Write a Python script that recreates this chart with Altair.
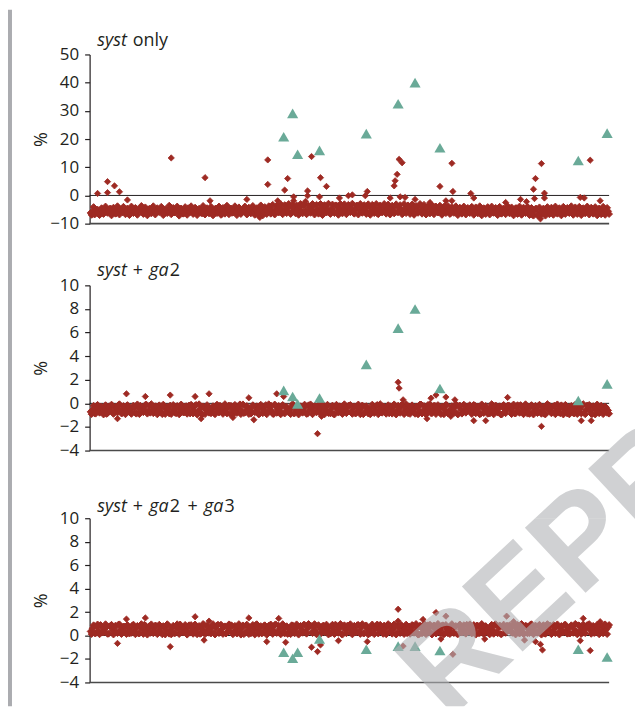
import altair as alt
import pandas as pd

# ---------------- data ----------------
# site positions along the (unlabelled) x axis, 0..522
SITES_A = list(range(1, 522, 2))
SITES_B = list(range(2, 523, 2))

P1_BAND_A = [
    -6.2, -5.6, -6.8, -5.9, -6.5, -5.2, -6.1, -4.9, -5.8, -5.4,
    -4.6, -5.9, -5.1, -6.3, -4.4, -5.5, -6.0, -4.8, -5.3, -6.2,
    -5.0, -4.5, -5.7, -6.1, -5.2, -4.7, -5.9, -5.4, -6.3, -5.0,
    -5.6, -4.8, -5.3, -6.0, -5.5, -4.9, -5.8, -6.2, -5.1, -5.6,
    -4.6, -5.4, -6.1, -5.0, -5.7, -4.8, -5.5, -6.3, -5.2, -4.5,
    -5.9, -5.3, -6.0, -4.9, -5.6, -5.1, -6.4, -5.4, -4.7, -5.8,
    -5.2, -6.1, -5.5, -4.6, -5.9, -5.3, -6.6, -5.0, -5.7, -4.8,
    -5.4, -6.2, -5.1, -5.8, -4.7, -5.5, -6.0, -5.2, -4.9, -6.3,
    -5.6, -4.4, -5.9, -5.0, -6.5, -5.3, -4.6, -5.8, -5.1, -6.1,
    -4.2, -5.5, -6.3, -4.8, -5.7, -3.9, -5.2, -6.0, -4.5, -5.4,
    -3.8, -5.9, -4.6, -6.4, -5.0, -4.1, -5.6, -3.6, -5.3, -6.2,
    -4.4, -5.1, -3.7, -5.8, -4.9, -6.1, -4.2, -5.5, -3.9, -5.0,
    -6.3, -4.6, -5.4, -3.5, -5.9, -4.8, -6.0, -4.3, -5.2, -3.8,
    -5.7, -4.5, -6.2, -4.9, -3.6, -5.3, -4.1, -5.8, -4.7, -6.1,
    -4.0, -5.5, -3.7, -5.0, -6.4, -4.4, -5.6, -3.9, -5.2, -4.6,
    -6.0, -4.8, -5.4, -3.8, -5.9, -4.3, -5.1, -6.3, -4.6, -5.7,
    -3.9, -5.2, -4.7, -6.1, -4.2, -5.5, -3.6, -5.0, -5.8, -4.4,
    -6.2, -4.9, -5.3, -4.0, -5.7, -4.5, -6.0, -5.1, -3.8, -5.5,
    -4.7, -6.3, -5.0, -4.3, -5.8, -5.2, -4.6, -6.1, -5.4, -4.9,
    -5.9, -5.1, -4.5, -6.2, -5.5, -4.8, -5.7, -6.4, -5.0, -4.6,
    -5.8, -5.3, -6.1, -4.7, -5.6, -5.0, -6.3, -4.9, -5.4, -5.9,
    -4.8, -5.6, -6.2, -5.1, -4.5, -5.9, -5.3, -6.5, -4.9, -5.7,
    -5.2, -6.0, -6.9, -5.5, -4.7, -6.7, -5.8, -5.1, -6.3, -4.8,
    -5.6, -6.1, -5.0, -4.6, -5.9, -5.4, -6.2, -4.9, -5.7, -5.2,
    -6.0, -4.5, -5.5, -6.3, -5.1, -4.8, -5.8, -5.3, -6.1, -4.7,
    -5.4, -6.2, -5.0, -5.7, -4.6, -5.9, -5.2, -6.4, -4.8, -5.5,
    -5.6,
]

P1_BAND_B = [
    -6.9, -4.1, -6.4, -5.0, -7.0, -4.5, -6.6, -3.9, -6.2, -4.8,
    -7.1, -4.3, -6.5, -3.8, -6.8, -5.2, -4.0, -6.7, -4.6, -7.0,
    -3.9, -6.3, -4.4, -6.9, -5.1, -3.7, -6.6, -4.2, -7.1, -4.7,
    -6.4, -3.8, -6.8, -4.5, -5.9, -4.0, -7.0, -4.9, -6.3, -3.6,
    -6.7, -4.4, -6.1, -3.9, -7.2, -4.6, -6.5, -4.1, -6.9, -5.0,
    -3.8, -6.6, -4.3, -7.0, -4.7, -6.2, -3.7, -6.8, -4.5, -6.4,
    -4.0, -7.1, -4.8, -6.3, -3.9, -6.9, -4.4, -6.5, -3.6, -6.7,
    -4.6, -6.1, -3.8, -7.0, -4.2, -6.6, -5.0, -3.9, -6.8, -4.3,
    -6.4, -3.7, -6.9, -4.5, -6.2, -3.5, -7.1, -4.1, -6.6, -3.8,
    -6.5, -3.3, -6.8, -3.6, -6.1, -3.1, -6.7, -3.4, -6.3, -3.0,
    -6.6, -3.2, -6.0, -3.5, -6.9, -3.0, -6.4, -3.1, -6.7, -3.6,
    -6.2, -3.0, -6.8, -3.3, -6.5, -3.0, -7.0, -3.4, -6.1, -2.9,
    -6.6, -3.2, -6.3, -3.5, -6.9, -3.0, -6.4, -3.1, -6.7, -3.3,
    -6.0, -2.9, -6.5, -3.6, -6.8, -3.0, -6.2, -3.4, -6.6, -3.1,
    -6.9, -3.3, -6.3, -3.0, -6.7, -3.5, -6.1, -3.0, -6.5, -3.2,
    -6.8, -3.6, -6.4, -3.1, -6.0, -3.4, -6.7, -3.0, -6.3, -3.5,
    -6.6, -3.2, -6.9, -3.7, -6.2, -3.0, -6.5, -3.3, -6.8, -3.8,
    -6.4, -3.5, -6.7, -3.9, -6.1, -3.6, -6.9, -4.0, -6.3, -3.7,
    -6.6, -4.1, -6.2, -3.8, -7.0, -4.3, -6.5, -3.9, -6.8, -4.4,
    -6.3, -4.0, -6.9, -4.2, -6.4, -3.8, -7.1, -4.5, -6.6, -4.1,
    -6.8, -3.9, -6.2, -4.4, -7.0, -4.0, -6.5, -4.6, -6.7, -3.8,
    -6.4, -4.2, -7.1, -4.5, -6.6, -3.9, -6.9, -4.3, -6.3, -4.0,
    -7.0, -4.4, -7.2, -4.7, -7.1, -4.2, -6.8, -4.6, -7.2, -4.1,
    -6.7, -4.3, -6.9, -3.9, -6.5, -4.5, -7.1, -4.0, -6.6, -4.4,
    -6.3, -3.8, -6.9, -4.2, -6.6, -4.0, -7.0, -4.5, -6.4, -3.9,
    -6.8, -4.3, -6.5, -4.1, -7.1, -4.6, -6.7, -4.0, -6.9, -4.4,
    -6.6,
]

P2_BAND_A = [
    -0.72, -0.55, -0.85, -0.40, -0.66, -0.30, -0.78, -0.48, -0.90, -0.35,
    -0.60, -0.22, -0.70, -0.45, -0.15, -0.58, -0.82, -0.38, -0.63, -0.27,
    -0.50, -0.75, -0.33, -0.88, -0.44, -0.20, -0.67, -0.52, -0.10, -0.61,
    -0.80, -0.36, -0.57, -0.25, -0.73, -0.47, -0.92, -0.31, -0.64, -0.42,
    -0.18, -0.69, -0.53, -0.84, -0.29, -0.60, -0.40, -0.77, -0.23, -0.56,
    -0.86, -0.34, -0.62, -0.12, -0.71, -0.46, -0.95, -0.37, -0.58, -0.26,
    -0.68, -0.49, -0.81, -0.32, -0.54, -0.19, -0.74, -0.43, -0.65, -0.28,
    -0.89, -0.51, -0.35, -0.70, -0.41, -0.08, -0.62, -0.83, -0.30, -0.57,
    -0.45, -0.76, -0.24, -0.66, -0.50, -0.87, -0.33, -0.59, -0.14, -0.72,
    -0.38, -0.63, -0.91, -0.27, -0.55, -0.44, -0.79, -0.21, -0.67, -0.48,
    -0.58, -0.30, -0.84, -0.46, -0.16, -0.70, -0.39, -0.61, -0.25, -0.88,
    -0.52, -0.35, -0.73, -0.20, -0.64, -0.47, -0.82, -0.29, -0.56, -0.11,
    -0.69, -0.42, -0.90, -0.33, -0.60, -0.24, -0.77, -0.50, -0.37, -0.65,
    -0.19, -0.71, -0.45, -0.86, -0.31, -0.57, -0.40, -0.93, -0.26, -0.62,
    -0.48, -0.80, -0.34, -0.66, -0.13, -0.54, -0.75, -0.28, -0.59, -0.43,
    -0.85, -0.36, -0.63, -0.22, -0.70, -0.49, -0.17, -0.78, -0.41, -0.60,
    -0.27, -0.68, -0.52, -0.89, -0.32, -0.57, -0.09, -0.73, -0.46, -0.64,
    -0.38, -0.83, -0.55, -0.21, -0.67, -0.44, -0.92, -0.30, -0.58, -0.15,
    -0.71, -0.47, -0.62, -0.35, -0.86, -0.24, -0.56, -0.79, -0.40, -0.65,
    -0.28, -0.74, -0.50, -0.18, -0.69, -0.43, -0.88, -0.33, -0.61, -0.52,
    -0.80, -0.37, -0.66, -0.25, -0.57, -0.45, -0.94, -0.31, -0.70, -0.48,
    -0.20, -0.63, -0.42, -0.85, -0.35, -0.59, -0.14, -0.76, -0.51, -0.39,
    -0.67, -0.29, -0.82, -0.46, -0.60, -0.23, -0.73, -0.54, -0.90, -0.36,
    -0.58, -0.41, -0.77, -0.19, -0.65, -0.49, -0.84, -0.32, -0.62, -0.44,
    -0.71, -0.26, -0.55, -0.87, -0.38, -0.68, -0.47, -0.16, -0.79, -0.53,
    -0.34, -0.64, -0.91, -0.42, -0.58, -0.27, -0.75, -0.50, -0.66, -0.37,
    -0.60,
]

P2_BAND_B = [
    -0.92, -0.20, -0.88, -0.12, -0.80, -0.28, -0.95, -0.15, -0.85, -0.25,
    -0.10, -0.90, -0.30, -0.78, -0.07, -0.86, -0.22, -0.93, -0.14, -0.75,
    -0.90, -0.18, -0.82, -0.08, -0.92, -0.26, -0.76, -0.12, -0.88, -0.20,
    -0.06, -0.84, -0.24, -0.94, -0.16, -0.79, -0.10, -0.91, -0.30, -0.86,
    -0.91, -0.13, -0.81, -0.21, -0.94, -0.09, -0.77, -0.27, -0.89, -0.17,
    -0.11, -0.87, -0.19, -0.95, -0.07, -0.83, -0.25, -0.92, -0.14, -0.80,
    -0.85, -0.23, -0.93, -0.10, -0.78, -0.29, -0.90, -0.06, -0.86, -0.18,
    -0.20, -0.94, -0.12, -0.82, -0.26, -0.92, -0.08, -0.79, -0.22, -0.91,
    -0.88, -0.15, -0.76, -0.24, -0.95, -0.11, -0.84, -0.28, -0.93, -0.07,
    -0.17, -0.89, -0.09, -0.81, -0.21, -0.94, -0.13, -0.87, -0.27, -0.78,
    -0.92, -0.06, -0.85, -0.19, -0.95, -0.24, -0.80, -0.10, -0.90, -0.16,
    -0.08, -0.93, -0.22, -0.77, -0.14, -0.88, -0.06, -0.94, -0.25, -0.83,
    -0.86, -0.18, -0.95, -0.11, -0.79, -0.27, -0.91, -0.07, -0.84, -0.20,
    -0.13, -0.90, -0.25, -0.82, -0.09, -0.93, -0.17, -0.78, -0.23, -0.87,
    -0.94, -0.10, -0.83, -0.21, -0.93, -0.06, -0.80, -0.28, -0.89, -0.15,
    -0.24, -0.88, -0.08, -0.95, -0.19, -0.81, -0.12, -0.92, -0.06, -0.85,
    -0.90, -0.16, -0.78, -0.26, -0.94, -0.09, -0.87, -0.22, -0.95, -0.13,
    -0.07, -0.84, -0.20, -0.91, -0.14, -0.79, -0.28, -0.93, -0.11, -0.86,
    -0.93, -0.23, -0.82, -0.06, -0.95, -0.18, -0.88, -0.10, -0.80, -0.25,
    -0.15, -0.91, -0.12, -0.85, -0.27, -0.94, -0.08, -0.83, -0.21, -0.89,
    -0.87, -0.06, -0.94, -0.17, -0.79, -0.24, -0.95, -0.13, -0.84, -0.19,
    -0.22, -0.92, -0.09, -0.86, -0.15, -0.81, -0.26, -0.93, -0.07, -0.88,
    -0.90, -0.14, -0.95, -0.20, -0.83, -0.11, -0.89, -0.28, -0.94, -0.06,
    -0.18, -0.85, -0.25, -0.93, -0.08, -0.80, -0.16, -0.95, -0.12, -0.87,
    -0.94, -0.21, -0.82, -0.10, -0.91, -0.27, -0.86, -0.06, -0.93, -0.17,
    -0.13, -0.89, -0.23, -0.95, -0.09, -0.84, -0.19, -0.92, -0.26, -0.81,
    -0.88,
]

P3_BAND_A = [
    0.35, 0.62, 0.20, 0.78, 0.45, 0.90, 0.28, 0.55, 0.71, 0.15,
    0.83, 0.40, 0.66, 0.25, 0.94, 0.52, 0.33, 0.75, 0.12, 0.58,
    0.47, 0.86, 0.30, 0.64, 0.18, 0.73, 0.50, 0.92, 0.38, 0.60,
    0.22, 0.69, 0.43, 0.81, 0.27, 0.57, 0.10, 0.76, 0.48, 0.88,
    0.36, 0.63, 0.19, 0.72, 0.54, 0.95, 0.31, 0.67, 0.42, 0.80,
    0.24, 0.59, 0.85, 0.37, 0.70, 0.14, 0.51, 0.89, 0.29, 0.65,
    0.46, 0.77, 0.21, 0.61, 0.93, 0.34, 0.56, 0.74, 0.16, 0.68,
    0.41, 0.84, 0.26, 0.53, 0.79, 0.32, 0.60, 0.11, 0.87, 0.44,
    0.71, 0.23, 0.57, 0.91, 0.39, 0.66, 0.17, 0.82, 0.49, 0.62,
    0.30, 0.75, 0.43, 0.96, 0.27, 0.58, 0.84, 0.35, 0.69, 0.13,
    0.52, 0.88, 0.40, 0.64, 0.20, 0.77, 0.47, 0.92, 0.33, 0.59,
    0.81, 0.25, 0.68, 0.45, 0.15, 0.73, 0.54, 0.86, 0.38, 0.63,
    0.28, 0.79, 0.50, 0.94, 0.36, 0.61, 0.12, 0.70, 0.42, 0.85,
    0.57, 0.22, 0.74, 0.48, 0.89, 0.31, 0.66, 0.18, 0.83, 0.53,
    0.39, 0.72, 0.26, 0.60, 0.95, 0.44, 0.76, 0.14, 0.58, 0.87,
    0.34, 0.67, 0.49, 0.81, 0.23, 0.63, 0.90, 0.37, 0.55, 0.19,
    0.78, 0.46, 0.85, 0.29, 0.62, 0.10, 0.71, 0.52, 0.93, 0.40,
    0.65, 0.24, 0.80, 0.56, 0.33, 0.74, 0.47, 0.88, 0.21, 0.60,
    0.43, 0.76, 0.30, 0.69, 0.15, 0.84, 0.51, 0.64, 0.36, 0.92,
    0.58, 0.27, 0.73, 0.45, 0.86, 0.20, 0.62, 0.39, 0.79, 0.54,
    0.32, 0.70, 0.48, 0.91, 0.25, 0.66, 0.13, 0.77, 0.57, 0.83,
    0.41, 0.64, 0.22, 0.87, 0.50, 0.74, 0.35, 0.60, 0.18, 0.80,
    0.55, 0.94, 0.38, 0.68, 0.28, 0.82, 0.46, 0.71, 0.16, 0.63,
    0.49, 0.85, 0.31, 0.59, 0.75, 0.24, 0.67, 0.44, 0.90, 0.37,
    0.61, 0.19, 0.78, 0.53, 0.34, 0.88, 0.42, 0.70, 0.26, 0.65,
    0.83, 0.47, 0.60, 0.21, 0.76, 0.55, 0.92, 0.39, 0.68, 0.50,
    0.72,
]

P3_BAND_B = [
    0.12, 0.88, 0.18, 0.95, 0.10, 0.82, 0.25, 0.97, 0.14, 0.79,
    0.92, 0.08, 0.85, 0.20, 0.96, 0.12, 0.78, 0.27, 0.90, 0.16,
    0.22, 0.94, 0.10, 0.83, 0.17, 0.98, 0.13, 0.87, 0.07, 0.80,
    0.96, 0.19, 0.86, 0.11, 0.93, 0.24, 0.81, 0.08, 0.97, 0.15,
    0.09, 0.84, 0.21, 0.97, 0.12, 0.78, 0.26, 0.91, 0.07, 0.88,
    0.90, 0.14, 0.95, 0.10, 0.82, 0.18, 0.99, 0.11, 0.85, 0.23,
    0.17, 0.98, 0.08, 0.86, 0.20, 0.93, 0.13, 0.79, 0.25, 0.96,
    0.89, 0.10, 0.83, 0.16, 0.98, 0.07, 0.87, 0.22, 0.94, 0.12,
    0.19, 0.91, 0.08, 0.97, 0.14, 0.81, 0.24, 0.88, 0.06, 0.85,
    0.95, 0.13, 0.90, 0.21, 0.84, 0.09, 0.98, 0.17, 0.80, 0.26,
    0.11, 0.87, 0.18, 0.96, 0.07, 0.83, 0.23, 0.92, 0.15, 0.99,
    0.86, 0.20, 0.98, 0.10, 0.89, 0.14, 0.80, 0.27, 0.94, 0.08,
    0.16, 0.93, 0.12, 0.85, 0.22, 0.99, 0.07, 0.88, 0.19, 0.82,
    0.97, 0.09, 0.84, 0.25, 0.91, 0.13, 0.98, 0.18, 0.87, 0.08,
    0.21, 0.95, 0.11, 0.80, 0.17, 0.92, 0.24, 0.86, 0.10, 0.98,
    0.83, 0.15, 0.96, 0.08, 0.89, 0.20, 0.81, 0.12, 0.94, 0.26,
    0.14, 0.90, 0.23, 0.99, 0.07, 0.85, 0.18, 0.97, 0.11, 0.88,
    0.93, 0.08, 0.87, 0.16, 1.00, 0.22, 0.84, 0.09, 0.91, 0.19,
    0.12, 0.98, 0.20, 0.82, 0.10, 0.95, 0.25, 0.89, 0.15, 0.86,
    0.96, 0.17, 0.90, 0.07, 0.84, 0.21, 0.99, 0.13, 0.81, 0.24,
    0.09, 0.92, 0.14, 0.97, 0.19, 0.87, 0.11, 0.94, 0.22, 0.83,
    0.88, 0.26, 0.95, 0.08, 0.90, 0.16, 0.99, 0.12, 0.85, 0.18,
    0.20, 0.97, 0.10, 0.86, 0.23, 0.93, 0.07, 0.89, 0.14, 0.98,
    0.84, 0.11, 0.91, 0.19, 0.96, 0.08, 0.82, 0.25, 0.94, 0.15,
    0.17, 0.88, 0.22, 1.00, 0.09, 0.86, 0.13, 0.95, 0.20, 0.90,
    0.98, 0.14, 0.83, 0.24, 0.92, 0.10, 0.87, 0.18, 0.96, 0.12,
    0.90,
]

# scattered (non-band) red points: sites and values
P1_OUT_SITES = [8, 18, 18, 25, 30, 38, 82, 116, 121, 158, 171, 179, 179, 189, 196, 199,
                205, 205, 217, 219, 219, 223, 232, 238, 231, 251, 260, 264, 279, 277,
                302, 306, 307, 309, 311, 314, 312, 317, 327, 342, 352, 358, 364, 365,
                364, 383, 386, 418, 433, 439, 446, 447, 448, 454, 457, 457, 453, 493,
                497, 503, 513]
P1_OUT_VALS = [0.7, 1.0, 4.9, 3.4, 1.3, -1.6, 13.3, 6.3, -1.9, -1.4, -7.8, 12.6, 3.9, -1.9,
               1.9, 6.0, -0.5, -1.9, -2.1, 1.6, -0.1, 13.8, 6.3, 3.2, -0.5, -0.9, -0.1,
               0.2, 1.4, -0.1, -0.9, 3.4, 5.2, 7.5, 12.8, 11.6, -0.5, -0.7, -1.4, -2.5,
               3.2, -1.9, 11.4, 1.4, -1.9, 0.7, -0.9, -2.5, -1.4, -2.2, 2.2, -1.1, 6.0,
               11.3, 0.8, -0.9, -8.3, -0.7, -0.9, 12.5, -1.9]

P2_OUT_SITES = [37, 56, 81, 106, 120, 160, 165, 188, 195, 229, 28, 112, 144, 233, 310,
                311, 315, 343, 348, 358, 367, 339, 363, 386, 398, 420, 454, 494, 504]
P2_OUT_VALS = [0.81, 0.58, 0.70, 0.58, 0.81, 0.47, -1.39, 0.81, 0.58, -2.57, -1.30,
               -1.30, -1.20, -1.10, 1.79, 1.29, 0.30, 0.44, 0.70, 0.53, 0.30, -1.30,
               -1.10, -1.47, -1.47, 0.50, -1.95, -1.47, -1.47]

P3_OUT_SITES = [37, 56, 106, 120, 160, 190, 28, 81, 115, 178, 197, 223, 229, 232, 250,
                279, 310, 310, 315, 335, 348, 358, 365, 353, 397, 419, 426, 437, 448,
                453, 455, 496, 493, 503, 513]
P3_OUT_VALS = [1.40, 1.50, 1.60, 1.23, 1.50, 1.46, -0.67, -0.95, -0.39, -0.52, -0.58,
               -1.00, -1.37, -0.80, -0.44, -0.52, 2.24, 1.23, -0.90, 1.37, 1.96, 1.65,
               -1.60, -0.30, -0.30, 1.65, 1.18, -0.39, -0.52, -0.75, -1.23, 1.46, -0.44,
               -1.28, 1.18]

# highlighted sites (green triangles)
TRI_SITES = [195, 204, 209, 231, 278, 310, 327, 352, 491, 520]
P1_TRI = [20.8, 29.1, 14.6, 16.0, 21.9, 32.5, 40.0, 16.9, 12.4, 22.1]
P2_TRI = [1.10, 0.58, -0.04, 0.45, 3.30, 6.37, 8.00, 1.26, 0.24, 1.65]
P3_TRI = [-1.43, -1.94, -1.43, -0.30, -1.17, -0.90, -0.90, -1.28, -1.17, -1.83]

P1_TICKS = [-10, 0, 10, 20, 30, 40, 50]
P23_TICKS = [-4, -2, 0, 2, 4, 6, 8, 10]

P1_TITLE = [("syst", "italic", 7.7), ("only", "normal", 43.3)]
P2_TITLE = [("syst", "italic", 7.7), ("+", "normal", 43.3), ("ga", "italic", 60),
            ("2", "normal", 80.5)]
P3_TITLE = [("syst", "italic", 7.7), ("+", "normal", 43.3), ("ga", "italic", 60),
            ("2", "normal", 80.5), ("+", "normal", 98.3), ("ga", "italic", 115),
            ("3", "normal", 135.5)]

RED = "#9E2A23"
GREEN = "#6AAA98"
INK = "#231f20"
FONT = "Open Sans"
X_MAX = 522
WM_TEXT = "REPRINTS"


def panel(band_a, band_b, out_sites, out_vals, tri, domain, ticks, plot_h, group_h,
          group_w, title, title_y, extra=()):
    xs = alt.Scale(domain=[0, X_MAX], range=[0, X_MAX])
    ys = alt.Scale(domain=domain, range=[plot_h, 0], nice=False, zero=False)
    yaxis = alt.Axis(values=ticks, title="%", titleX=-48, titleAngle=270,
                     titleAlign="center", titleBaseline="middle", grid=False)
    X = alt.X("site:Q", scale=xs, axis=None)
    Y = alt.Y("value:Q", scale=ys, axis=yaxis)

    band_df = pd.concat([
        pd.DataFrame({"site": SITES_B, "value": band_b}),
        pd.DataFrame({"site": SITES_A, "value": band_a}),
    ], ignore_index=True)
    out_df = pd.DataFrame({"site": out_sites, "value": out_vals})
    tri_df = pd.DataFrame({"site": TRI_SITES, "value": tri})
    lines_df = pd.DataFrame({"site": [0, 0], "site2": [X_MAX, X_MAX],
                             "value": [0, domain[0]], "w": [1.0, 1.6],
                             "c": [INK, "#4a4a4a"]})

    layers = [
        alt.Chart(lines_df).mark_rule().encode(
            x=X, x2="site2:Q", y=Y,
            strokeWidth=alt.StrokeWidth("w:Q", scale=None),
            color=alt.Color("c:N", scale=None)),
        alt.Chart(band_df).mark_point(shape="diamond", filled=True, size=46,
                                      opacity=1, color=RED, stroke=RED,
                                      strokeWidth=1.0).encode(x=X, y=Y),
        alt.Chart(out_df).mark_point(shape="diamond", filled=True, size=40,
                                     opacity=1, color=RED, stroke=RED,
                                     strokeWidth=0.8).encode(x=X, y=Y),
        alt.Chart(tri_df).mark_point(shape="triangle-up", filled=True, size=125,
                                     opacity=1, color=GREEN).encode(x=X, y=Y),
    ]
    for txt, style, dx in title:
        layers.append(
            alt.Chart(pd.DataFrame({"t": [txt]})).mark_text(
                align="left", baseline="alphabetic", fontSize=18, font=FONT,
                fontStyle=style, color=INK).encode(
                x=alt.value(dx), y=alt.value(title_y), text="t:N"))
    layers.extend(extra)
    return alt.layer(*layers).properties(width=group_w, height=group_h)


def watermark(x, y):
    return alt.Chart(pd.DataFrame({"t": [WM_TEXT]})).mark_text(
        align="left", baseline="alphabetic", fontSize=130, font="Liberation Sans",
        fontWeight="bold", angle=317, color="#b1b3b6", opacity=0.6,
        clip=True).encode(x=alt.value(x), y=alt.value(y), text="t:N")


# page decoration: grey left bar
bar = alt.Chart(pd.DataFrame({"k": [1]})).mark_rect(color="#abacb0").encode(
    x=alt.value(-82), x2=alt.value(-78), y=alt.value(-45), y2=alt.value(655))

p1 = panel(P1_BAND_A, P1_BAND_B, P1_OUT_SITES, P1_OUT_VALS, P1_TRI, [-10, 50],
           P1_TICKS, 170, 232, X_MAX, P1_TITLE, -8, extra=[bar])
p2 = panel(P2_BAND_A, P2_BAND_B, P2_OUT_SITES, P2_OUT_VALS, P2_TRI, [-4, 10],
           P23_TICKS, 166, 234, 548, P2_TITLE, -9, extra=[watermark(360, 438)])
p3 = panel(P3_BAND_A, P3_BAND_B, P3_OUT_SITES, P3_OUT_VALS, P3_TRI, [-4, 10],
           P23_TICKS, 165, 189, 548, P3_TITLE, -6, extra=[watermark(360, 204)])

chart = alt.vconcat(p1, p2, p3, spacing=0, bounds="flush", padding=0).configure_view(
    stroke=None
).configure_axis(
    domainColor=INK, domainWidth=1.2, tickColor=INK, tickWidth=1.2, tickSize=5,
    labelFont=FONT, labelFontSize=17, labelColor=INK, labelPadding=6,
    titleFont=FONT, titleFontSize=18, titleColor=INK, titleFontWeight="normal",
)

chart.save("out.html", embed_options={"renderer": "svg", "actions": False})
